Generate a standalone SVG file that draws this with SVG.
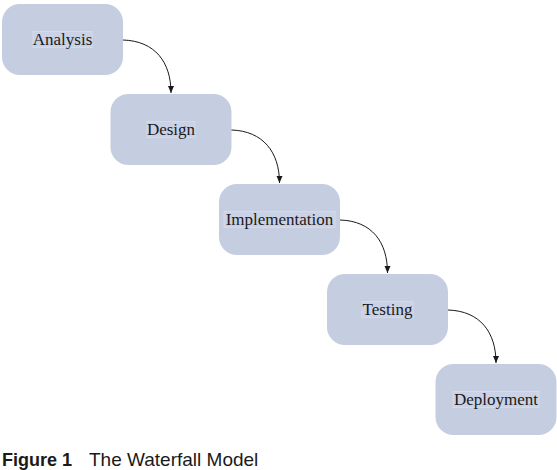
<svg xmlns="http://www.w3.org/2000/svg" width="557" height="470" viewBox="0 0 557 470">
<style>
.box{fill:#c5cde1;}
.hl{fill:#cbd2e5;stroke:#dde2ee;stroke-width:0.6;}
.lbl{font-family:"Liberation Serif","DejaVu Serif",serif;font-size:17px;fill:#1a1a1a;text-anchor:middle;}
.con{fill:none;stroke:#1a1a1a;stroke-width:1;}
.cap{font-family:"Liberation Sans","Open Sans",sans-serif;font-size:19px;fill:#1a1a1a;}
</style>
<defs>
<marker id="ah" markerWidth="8" markerHeight="10" refX="7" refY="4" orient="auto" markerUnits="userSpaceOnUse" viewBox="0 0 8 8">
<path d="M0,1 L7,4 L0,7 Z" fill="#1a1a1a"/>
</marker>
</defs>
<g id="analysis">
<rect class="box" x="2" y="4" width="121" height="71" rx="18"/>
<rect class="hl" x="33" y="31.5" width="59" height="16"/>
<text class="lbl" x="62.5" y="44.5">Analysis</text>
</g>
<g id="design">
<rect class="box" x="110.5" y="94" width="121" height="71" rx="18"/>
<rect class="hl" x="147" y="121.5" width="48" height="16"/>
<text class="lbl" x="171" y="134.5">Design</text>
</g>
<g id="implementation">
<rect class="box" x="219" y="184" width="121" height="71" rx="18"/>
<rect class="hl" x="224" y="211.5" width="111" height="16"/>
<text class="lbl" x="279.5" y="224.5">Implementation</text>
</g>
<g id="testing">
<rect class="box" x="327" y="274" width="121" height="71" rx="18"/>
<rect class="hl" x="362" y="301.5" width="51" height="16"/>
<text class="lbl" x="387.5" y="314.5">Testing</text>
</g>
<g id="deployment">
<rect class="box" x="435.5" y="364" width="121" height="71" rx="18"/>
<rect class="hl" x="453" y="391.5" width="86" height="16"/>
<text class="lbl" x="496" y="404.5">Deployment</text>
</g>
<g id="connectors">
<path class="con" marker-end="url(#ah)" d="M123,40 C155,41 171,62 171,93"/>
<path class="con" marker-end="url(#ah)" d="M231.5,130 C263,131 279.5,152 279.5,183"/>
<path class="con" marker-end="url(#ah)" d="M340,220 C372,221 387.5,242 387.5,273"/>
<path class="con" marker-end="url(#ah)" d="M448,310 C480,311 496,332 496,363"/>
</g>
<g id="caption">
<text class="cap" x="2" y="466"><tspan font-weight="bold" font-size="18">Figure 1</tspan><tspan x="89">The Waterfall Model</tspan></text>
</g>
</svg>
